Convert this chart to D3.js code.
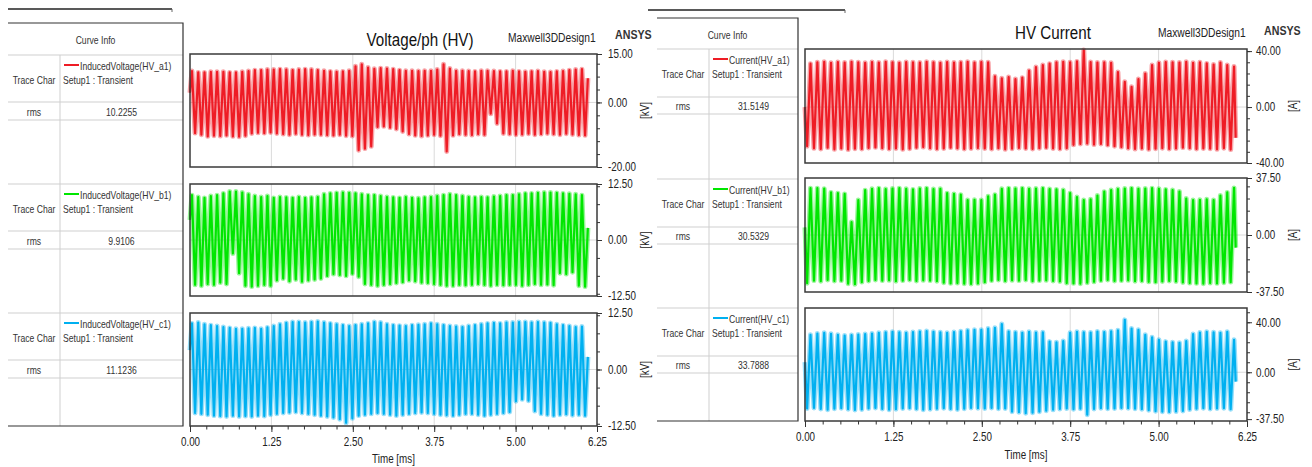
<!DOCTYPE html>
<html>
<head>
<meta charset="utf-8">
<script src="https://cdn.jsdelivr.net/npm/d3@7"></script>
<style>
  body { margin: 0; background: #fff; }
  svg { display: block; font-family: "Liberation Sans", Arial, sans-serif; }
</style>
</head>
<body>
<svg id="chart" width="1312" height="467"></svg>
<script>
// times (ms) of the two alternating extrema of every cycle
var tA = [0.030,0.127,0.223,0.320,0.416,0.513,0.610,0.706,0.803,0.899,0.996,1.093,1.189,1.286,1.382,1.479,1.576,1.672,1.769,1.865,
  1.962,2.059,2.155,2.252,2.348,2.445,2.542,2.638,2.735,2.831,2.928,3.025,3.121,3.218,3.314,3.411,3.508,3.604,3.701,3.797,
  3.894,3.991,4.087,4.184,4.280,4.377,4.474,4.570,4.667,4.763,4.860,4.957,5.053,5.150,5.246,5.343,5.440,5.536,5.633,5.729,
  5.826,5.923,6.019];
var tB = [0.078,0.175,0.272,0.368,0.465,0.561,0.658,0.754,0.851,0.948,1.044,1.141,1.237,1.334,1.431,1.527,1.624,1.720,1.817,1.914,
  2.010,2.107,2.203,2.300,2.397,2.493,2.590,2.686,2.783,2.880,2.976,3.073,3.169,3.266,3.363,3.459,3.556,3.652,3.749,3.846,
  3.942,4.039,4.135,4.232,4.329,4.425,4.522,4.618,4.715,4.812,4.908,5.005,5.101,5.198,5.295,5.391,5.488,5.584,5.681,5.778,
  5.874,5.971,6.067];

// induced voltage [kV]: peaks (at tA) and troughs (at tB)
var vaHi = [9.7,9.3,9.3,9.5,9.5,9.5,9.3,9.3,9.5,9.7,10.0,10.0,10.2, 10.2,10.3,10.2,10.0,10.2,10.3,10.2,10.0,9.8,9.6,9.5,9.6,9.8,
  11.2,11.8,10.8, 10.4,10.6,10.5,10.3,10.0, 9.8,9.8,9.7,9.8,9.8,10.2, 11.8, 10.5,9.8,9.8,9.7,9.6,9.8,9.8, 9.7,9.6,9.6,9.8,
  9.6,9.5,9.6,9.7,9.5,9.4,9.6,9.7,10.0,10.2,10.3];
var vaLo = [-9.5,-10.0,-10.5,-10.3,-10.4,-10.2,-10.5,-10.6,-10.3,-9.6,-9.4,-9.5,-9.3, -9.6,-9.8,-10.0,-9.7,-10.0,-10.1,-9.9,-10.0,-10.1,-10.2,-10.0,-10.3,-10.4,
  -14.8,-14.3,-13.6, -7.6,-7.4,-7.8,-8.2,-9.0, -9.8,-10.2,-10.4,-10.2,-10.0,-10.3, -15.2, -10.2,-9.8,-10.0,-10.1,-9.8,-10.0, -3.5,-6.5,
  -9.6,-9.8,-10.0,-9.9,-9.7,-10.0,-9.8,-9.6,-9.8,-10.0,-9.7,-9.9,-10.1,-10.2];
var vbHi = [10.0,9.6,9.4,9.8,10.0,10.4, 10.8,10.8,10.6, 10.2,9.8,9.6,9.8, 9.4,9.6,9.5,9.4,9.6,9.4,9.5,9.6, 10.2,10.4,10.5,10.6,10.5,10.4,
  10.2,10.0,10.0,9.8,9.6, 9.5,9.4,9.6,9.4,9.3,9.5,9.6,9.8,10.0, 10.2,10.0,9.8,9.6,9.5,9.6,9.5,9.7,9.8,10.0,
  10.0,10.2,10.4,10.4,10.5,10.6,10.6,10.5,10.4,10.3,10.2,10.0];
var vbLo = [-10.0,-10.2,-9.8,-10.0,-9.5,-9.8, -3.0,-7.4, -10.2,-10.4,-10.2,-10.0,-10.2, -9.0,-8.6,-9.2,-8.8,-9.3,-9.0,-8.8,-8.6,
  -8.0,-7.6,-7.8,-8.0,-7.5,-8.2, -9.8,-10.0,-10.2,-10.0,-9.8, -9.6,-9.4,-9.0,-9.2,-9.5,-9.6,-9.8,-10.0,-10.2,
  -10.2,-10.0,-10.1,-10.0,-9.8,-10.0,-10.2,-10.0,-10.1,-10.0, -10.0,-10.2,-10.0,-9.8,-10.0,-9.9,-10.1, -7.4,-7.6,-7.2, -10.2,-10.4];
var vcHi = [10.2,10.4,10.0,9.8,9.6,9.4, 9.2,9.0,9.0,9.1,9.2,9.0, 9.3,9.6,10.0,10.3,10.5,10.5,10.4,10.5,10.6,
  10.4,10.2,10.0,9.8,9.6,9.8,10.0,10.2,10.5,10.4, 10.0,9.8,9.7,9.6,9.8,9.9,10.0,10.2,10.0,9.8,
  9.6,9.5,9.4,9.6,9.8,10.0,10.2,10.3,10.2,10.4, 10.4,10.5,10.5,10.4,10.5,10.4,10.3, 10.0,9.8,9.6,9.4,9.5];
var vcLo = [-9.6,-9.8,-10.0,-10.2, -10.3,-10.4,-10.2,-10.4,-10.3,-10.4,-10.2,-10.3,-10.0,-9.8, -9.6,-9.5,-9.4,-9.6,-9.8,-10.0,-10.2,-10.4,-10.6,
  -11.0,-11.8,-10.8, -10.2,-10.0,-9.8,-9.6,-9.8,-10.0,-10.2,-10.0,-9.8,-9.6,-9.5,-9.6,-9.8,-10.0,-10.1,
  -10.2,-10.0,-9.8,-9.8,-10.0,-10.2,-10.0,-9.8,-9.6,-9.4, -7.0,-6.6,-6.9, -9.2,-9.8,-10.0,-10.2,-10.0,-9.9,-10.1,-10.0,-10.2];

// winding current [A]: troughs (at tA) and peaks (at tB)
var iaLo = [-28.0,-29.5,-30.0,-29.0,-30.2,-29.6,-30.4,-29.8,-30.0,-29.2,-28.8,-29.4,-30.0,-29.6,-30.2,-29.8,-29.0,-28.6,-29.4,-30.0,
  -29.6,-29.0,-29.4,-30.0,-29.6,-29.2, -29.6,-30.0,-29.4,-30.2,-29.8, -29.2,-29.6,-30.0,-29.4,-29.0,-29.6,-30.0,-29.4,
  -27.0,-26.4,-26.0,-26.8,-26.4,-27.2,-28.0, -28.6,-29.4,-30.0,-29.6,-30.2,-29.8,-29.4,-30.0,-29.6,-29.0,-29.4,-30.0,-29.6,-29.8,-30.2,-29.4,-30.4];
var iaHi = [31.0,32.0,32.4,31.6,32.2,31.8,32.4,32.0,31.6,32.2,31.8,32.4,32.0,31.6,32.2,32.0,31.8,32.4,32.0,31.6,32.2,31.8,32.0,32.4,31.8,32.2,
  32.0, 22.0,20.6,21.4,20.0,21.0, 26.0,28.6,30.0,31.0, 32.0,32.4,32.0,32.6, 40.7, 32.2,31.8,32.0,31.6, 25.0,18.0,14.5,20.0,24.0,
  30.0,31.6,32.2,32.0,31.8,32.4,31.6,32.0,31.2,30.4,31.8,30.0,29.0];
var ibLo = [-31.7,-30.0,-30.4,-29.6,-30.2,-30.0, -32.0,-32.4, -31.0,-30.2,-29.6,-30.0,-29.8,-30.4,-30.0,-29.6,-30.2,-29.8,-30.0,-30.4,
  -31.4,-31.8,-31.6,-32.0,-32.2,-31.8,-31.0, -30.0,-29.6,-30.2,-29.8,-30.0,-29.6,-30.4,-30.0,-29.8,-30.2,-30.6,
  -31.6,-31.8,-32.0,-31.4,-30.8, -30.0,-29.6,-30.2,-30.0,-29.8,-30.4,-30.2,-30.8,-31.0,-30.6,-30.2,
  -30.6,-31.2,-31.6,-31.8,-32.0,-31.6,-31.8,-31.4,-31.0];
var ibHi = [30.8,30.8,30.5, 28.0,27.5,27.0, 8.5,23.0, 29.5,30.4,30.8,30.2,30.6,30.8,30.4,30.0,30.6,30.8,30.2,30.4,
  27.5,27.0,26.5, 23.0,23.2,23.0, 25.5,26.5, 30.4,30.8,30.6,30.8,30.4,30.6,30.8,30.2,30.0,29.6,
  27.5,25.0,23.0,23.5,26.0, 28.5,29.6,30.2,30.6,30.8,30.4,30.6,30.8,30.4,30.0,29.6,28.6, 24.0,23.0,23.2,23.5,23.0, 26.0,28.0,31.0];
var icLo = [-29.0,-28.6,-29.4,-30.0,-29.2,-28.8,-29.6,-30.2,-29.8,-29.0,-28.6,-29.4,-30.0,-29.6,-29.0,-28.8,-29.4,-30.0,-29.6,-29.2,
  -28.8,-29.4,-29.8,-29.2,-28.6, -28.8,-29.0,-28.6,-29.2,-29.0, -31.5,-32.0,-32.8,-32.4,-31.6,-30.8,-30.0, -29.4,-29.0,-29.6,-29.2,
  -34.0, -29.4,-28.8,-29.2,-29.0,-28.6,-28.8,-29.2,-29.6, -30.4,-31.2,-31.6,-31.8,-31.4,-31.0, -29.8,-29.2,-28.8,-29.4,-29.0,-28.8,-29.6];
var icHi = [30.0,31.0,31.6,30.8,30.0,29.4,29.8,30.2,30.6,31.0,31.6,32.0,32.4,32.0,31.6,32.2,32.6,33.0,32.4,32.0,31.6,32.2,32.8,33.6,34.0,
  34.0,35.0,35.6,38.6, 32.6,32.0,31.6,32.4,31.8,32.0, 24.5,24.0,25.0, 31.6,32.4,32.0,31.8,32.6,32.2,32.8,
  33.6,41.9,35.0,34.0, 30.0,28.0,26.0,24.5, 24.0,23.6,25.0, 30.6,31.8,32.4,32.0,31.6,32.4, 26.0];

// first and last samples of each trace
var vStart = [3.0, 4.5, 4.3], vEnd = [7.5, 2.7, 2.8], vTEnd = 6.11;
var iStart = [0.0, 5.0, 8.0], iEnd = [-22.0, -8.3, -7.5], iTEnd = 6.09;

var vNames = ["InducedVoltage(HV_a1)", "InducedVoltage(HV_b1)", "InducedVoltage(HV_c1)"];
var iNames = ["Current(HV_a1)", "Current(HV_b1)", "Current(HV_c1)"];
var vRms = ["10.2255", "9.9106", "11.1236"];
var iRms = ["31.5149", "30.5329", "33.7888"];

var xTicks = [0, 1.25, 2.5, 3.75, 5, 6.25];
var vTickLabels = [[15, 0, -20], [12.5, 0, -12.5], [12.5, 0, -12.5]];
var iTickLabels = [[40, 0, -40], [37.5, 0, -37.5], [40, 0, -37.5]];
var vDomains = [[-20, 15], [-12.5, 12.5], [-12.5, 12.5]];
var iDomains = [[-40, 41.5], [-37.5, 37.5], [-39, 51.4]];

var Colours = ["#ee1c25", "#00e600", "#00b0f0"];

// the report font is a narrow sans, squeeze Liberation Sans to match
var NARROW = 0.82;

function buildPoints(start, hi, tHi, lo, tLo, end, tEnd) {
  var pts = [{ t: 0, v: start }];
  hi.forEach(function (v, i) { pts.push({ t: tHi[i], v: v }); });
  lo.forEach(function (v, i) { pts.push({ t: tLo[i], v: v }); });
  pts.sort(function (a, b) { return a.t - b.t; });
  pts.push({ t: tEnd, v: end });
  return pts;
}

function label(sel, x, y, str, size, anchor, extra) {
  return sel.append("text")
    .attr("transform", "translate(" + x + "," + y + ")" + (extra || "") + " scale(" + NARROW + ",1)")
    .attr("dy", ".35em").attr("text-anchor", anchor || "start")
    .style("font-size", size + "px").style("fill", "#222").text(str);
}

var panels = [
  {
    title: "Voltage/ph (HV)", unit: "[kV]", names: vNames, rms: vRms, ticks: vTickLabels, domains: vDomains, minorStep: 4,
    series: [
      buildPoints(vStart[0], vaHi, tA, vaLo, tB, vEnd[0], vTEnd),
      buildPoints(vStart[1], vbHi, tA, vbLo, tB, vEnd[1], vTEnd),
      buildPoints(vStart[2], vcHi, tA, vcLo, tB, vEnd[2], vTEnd)
    ],
    x0: 190, x1: 597, plots: [[54, 167], [184, 296], [313, 426]],
    tbl: { x0: 8, x1: 183, col: 60, top: 23, rows: [55, 184, 313], rowH: 47, rmsH: 18, bottom: 426 },
    rule: [8, 172, 9],
    titleX: 420, titleY: 40, designX: 508, designY: 38, ansysX: 615, ansysY: 34,
    labelX: 608, unitX: 645, timeY: 459
  },
  {
    title: "HV Current", unit: "[A]", names: iNames, rms: iRms, ticks: iTickLabels, domains: iDomains, minorStep: 8,
    series: [
      buildPoints(iStart[0], iaHi, tB, iaLo, tA, iEnd[0], iTEnd),
      buildPoints(iStart[1], ibHi, tB, ibLo, tA, iEnd[1], iTEnd),
      buildPoints(iStart[2], icHi, tB, icLo, tA, iEnd[2], iTEnd)
    ],
    x0: 805, x1: 1247, plots: [[49, 163], [178, 292], [308, 421]],
    tbl: { x0: 657, x1: 798, col: 709, top: 18, rows: [49, 179, 308], rowH: 48, rmsH: 17, bottom: 421 },
    rule: [648, 845, 10],
    titleX: 1053, titleY: 33, designX: 1158, designY: 33, ansysX: 1264, ansysY: 30,
    labelX: 1256, unitX: 1293, timeY: 455
  }
];

var svg = d3.select("#chart");

panels.forEach(function (p) {
  var g = svg.append("g");
  var x = d3.scaleLinear().domain([0, 6.25]).range([p.x0, p.x1]);

  // thin rule above each report
  g.append("line").attr("x1", p.rule[0]).attr("x2", p.rule[1]).attr("y1", p.rule[2]).attr("y2", p.rule[2])
    .attr("stroke", "#222").attr("stroke-width", 1.5);
  g.append("line").attr("x1", p.rule[1]).attr("x2", p.rule[1]).attr("y1", p.rule[2]).attr("y2", p.rule[2] + 3)
    .attr("stroke", "#666").attr("stroke-width", 1);

  // titles
  label(g, p.titleX, p.titleY, p.title, 18.5, "middle").style("fill", "#111");
  label(g, p.designX, p.designY, "Maxwell3DDesign1", 12.5);
  label(g, p.ansysX, p.ansysY, "ANSYS", 13).style("font-weight", "bold").style("fill", "#333");

  // curve info table
  var t = p.tbl;
  var grey = "#cfcfcf";
  var tg = g.append("g");
  label(tg, (t.x0 + t.x1) / 2, (t.top + t.rows[0]) / 2 + 1.5, "Curve Info", 10.5, "middle").style("fill", "#333");
  t.rows.forEach(function (r, i) {
    [r, r + t.rowH, r + t.rowH + t.rmsH].forEach(function (yy) {
      tg.append("line").attr("x1", t.x0).attr("x2", t.x1).attr("y1", yy).attr("y2", yy).attr("stroke", grey);
    });
    tg.append("line").attr("x1", t.col + 4).attr("x2", t.col + 19).attr("y1", r + 10).attr("y2", r + 10)
      .attr("stroke", Colours[i]).attr("stroke-width", 2);
    label(tg, t.col + 20, r + 11, p.names[i], 10.5).style("fill", "#333");
    label(tg, t.col + 3, r + 25, "Setup1 : Transient", 10.5).style("fill", "#333");
    label(tg, (t.x0 + t.col) / 2, r + 25.5, "Trace Char", 10.5, "middle").style("fill", "#333");
    var ry = r + t.rowH + t.rmsH / 2 + 1;
    label(tg, (t.x0 + t.col) / 2, ry, "rms", 10.5, "middle").style("fill", "#333");
    label(tg, (t.col + t.x1) / 2, ry, p.rms[i], 10.5, "middle").style("fill", "#333");
  });
  tg.append("line").attr("x1", t.col).attr("x2", t.col).attr("y1", t.rows[0]).attr("y2", t.bottom).attr("stroke", grey);
  tg.append("path")
    .attr("d", "M" + t.x0 + "," + t.top + "H" + t.x1 + "V" + t.bottom + "H" + t.x0)
    .attr("fill", "none").attr("stroke", "#333").attr("stroke-width", 1.2);

  // the three stacked plots
  p.plots.forEach(function (pl, i) {
    var dom = p.domains[i];
    var y = d3.scaleLinear().domain(dom).range([pl[1], pl[0]]);
    var pg = g.append("g");

    pg.selectAll("line.vgrid").data(xTicks.slice(1, -1)).join("line").attr("class", "vgrid")
      .attr("x1", function (d) { return x(d); }).attr("x2", function (d) { return x(d); })
      .attr("y1", pl[0]).attr("y2", pl[1]).attr("stroke", "#dadada");
    pg.append("line").attr("x1", p.x0).attr("x2", p.x1).attr("y1", y(0)).attr("y2", y(0)).attr("stroke", "#dadada");

    var line = d3.line().x(function (d) { return x(d.t); }).y(function (d) { return y(d.v); });
    pg.append("path").datum(p.series[i]).attr("fill", "none").attr("stroke", Colours[i])
      .attr("stroke-opacity", 0.4).attr("stroke-width", 5).attr("stroke-linejoin", "round").attr("d", line);
    pg.append("path").datum(p.series[i]).attr("fill", "none").attr("stroke", Colours[i])
      .attr("stroke-width", 2.2).attr("stroke-linejoin", "round").attr("d", line);

    pg.append("rect").attr("x", p.x0).attr("y", pl[0]).attr("width", p.x1 - p.x0).attr("height", pl[1] - pl[0])
      .attr("fill", "none").attr("stroke", "#3a3a3a").attr("stroke-width", 1.5);

    // right-hand value axis
    var minor = d3.range(Math.ceil(dom[0] / p.minorStep) * p.minorStep, dom[1], p.minorStep);
    var yMinorG = pg.append("g").attr("transform", "translate(" + p.x1 + ",0)")
      .call(d3.axisRight(y).tickValues(minor).tickSize(3).tickFormat(""));
    yMinorG.select(".domain").remove();
    var yAxis = d3.axisRight(y).tickValues(p.ticks[i]).tickSize(5)
      .tickFormat(function (d) { return d.toFixed(2); });
    var yG = pg.append("g").attr("transform", "translate(" + p.x1 + ",0)").call(yAxis);
    yG.select(".domain").remove();
    yG.selectAll("text").attr("x", null)
      .attr("transform", "translate(" + (p.labelX - p.x1) + ",0) scale(" + NARROW + ",1)")
      .style("font-size", "12px").style("fill", "#222").style("font-family", "'Liberation Sans', Arial, sans-serif");
    pg.selectAll("g.tick line").attr("stroke", "#333");

    label(pg, p.unitX, (pl[0] + pl[1]) / 2, p.unit, 12, "middle", " rotate(-90)");
  });

  // shared time axis under the last plot
  var bottom = p.plots[2][1];
  var xMinorG = g.append("g").attr("transform", "translate(0," + bottom + ")")
    .call(d3.axisBottom(x).tickValues(d3.range(0, 6.26, 0.25)).tickSize(3.5).tickFormat(""));
  xMinorG.select(".domain").remove();
  var xAxis = d3.axisBottom(x).tickValues(xTicks).tickSize(6).tickPadding(5)
    .tickFormat(function (d) { return d.toFixed(2); });
  var xG = g.append("g").attr("transform", "translate(0," + bottom + ")").call(xAxis);
  xG.select(".domain").remove();
  xG.selectAll("text").attr("transform", "scale(" + NARROW + ",1)")
    .style("font-size", "12px").style("fill", "#222").style("font-family", "'Liberation Sans', Arial, sans-serif");
  g.selectAll("g.tick line").attr("stroke", "#333");

  label(g, (p.x0 + p.x1) / 2, p.timeY, "Time [ms]", 12, "middle");
});
</script>
</body>
</html>
